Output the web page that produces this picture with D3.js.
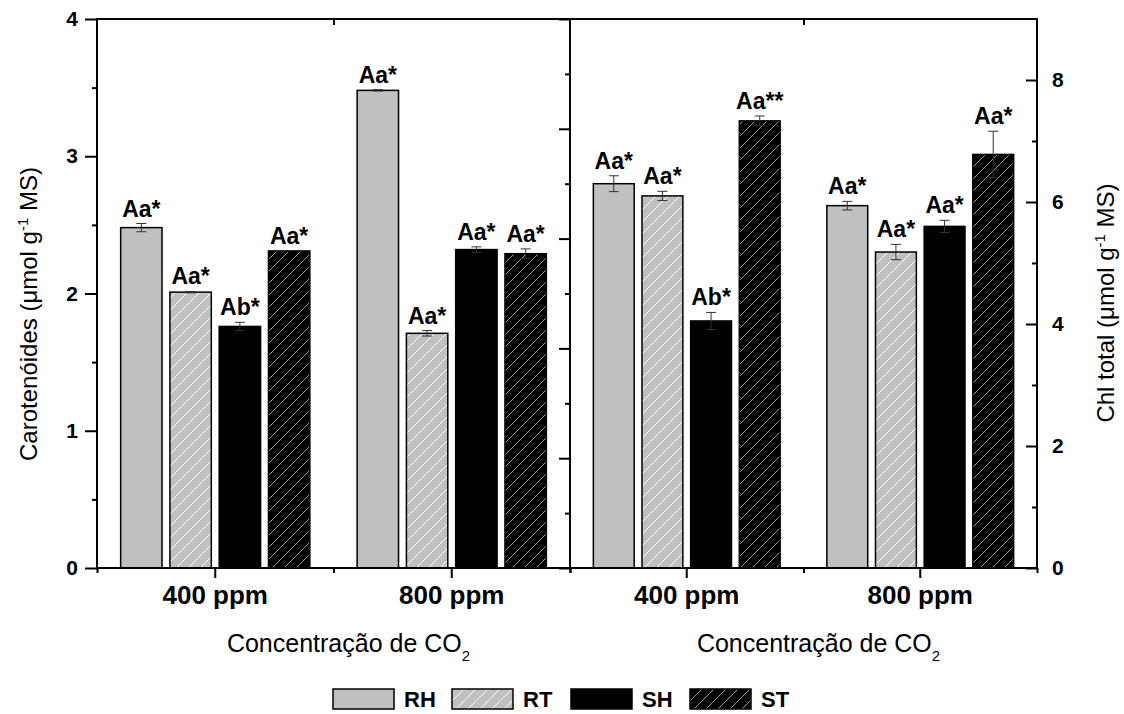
<!DOCTYPE html>
<html>
<head>
<meta charset="utf-8">
<script src="https://cdn.jsdelivr.net/npm/d3@7"></script>
<style>
    body { margin: 0; background: #ffffff; }
    text { font-family: "Liberation Sans", Arial, sans-serif; fill: #000000; }
</style>
</head>
<body>
<svg id="SVGbarChart" width="1124" height="714"></svg>
<script>
/** CO2 concentrations (x categories, shared by both panels) */
const concentrations = ["400 ppm", "800 ppm"];
/** treatments (bar series) */
const treatments = ["RH", "RT", "SH", "ST"];

/** carotenoids, mean per [concentration][treatment] */
const carotMeans = [[2.48, 2.01, 1.76, 2.31], [3.48, 1.71, 2.32, 2.29]];
/** carotenoids, error per [concentration][treatment] */
const carotErrors = [[0.03, 0.005, 0.03, 0], [0.005, 0.02, 0.02, 0.035]];
/** carotenoids, letters over bars */
const carotLabels = [["Aa*", "Aa*", "Ab*", "Aa*"], ["Aa*", "Aa*", "Aa*", "Aa*"]];

/** total chlorophyll, mean per [concentration][treatment] */
const chlMeans = [[6.30, 6.10, 4.05, 7.33], [5.94, 5.18, 5.60, 6.78]];
/** total chlorophyll, error per [concentration][treatment] */
const chlErrors = [[0.13, 0.075, 0.14, 0.08], [0.07, 0.125, 0.1, 0.38]];
/** total chlorophyll, letters over bars */
const chlLabels = [["Aa*", "Aa*", "Ab*", "Aa**"], ["Aa*", "Aa*", "Aa*", "Aa*"]];

/** y ticks */
const carotTicks = [0, 1, 2, 3, 4];
const chlTicks = [0, 2, 4, 6, 8];

const barChart = {
    SVG: d3.select("#SVGbarChart"),
    /** plot area edges */
    top: 19,
    bottom: 568,
    left: 97,
    middle: 570,
    right: 1037,
    fills: {
        RH: "#c0c0c0",
        RT: "url(#hatchRT)",
        SH: "#000000",
        ST: "url(#hatchST)"
    },

    /** diagonal hatch pattern */
    hatch: (id, bg, fg) => {
        const p = barChart.SVG.select("defs").append("pattern")
            .attr("id", id)
            .attr("patternUnits", "userSpaceOnUse")
            .attr("width", 12)
            .attr("height", 12);
        p.append("rect").attr("width", 12).attr("height", 12).attr("fill", bg);
        p.append("path")
            .attr("d", "M-3,3 L3,-3 M0,12 L12,0 M9,15 L15,9")
            .attr("stroke", fg)
            .attr("stroke-width", 1);
    },

    /**
     * draw one panel
     * @param {*} panel panel description
     */
    renderPanel: panel => {
        const G = barChart.SVG.append("g");
        const xOuter = d3.scaleBand()
            .domain(concentrations)
            .range([panel.x0, panel.x1]);
        const bw = xOuter.bandwidth();
        const xInner = d3.scaleBand()
            .domain(treatments)
            .range([bw * 0.1, bw * 0.9])
            .paddingInner(0.16);
        const y = panel.scale;

        const dataList = [];
        concentrations.forEach((c, i) => {
            treatments.forEach((t, j) => {
                dataList.push({
                    conc: c,
                    treat: t,
                    mean: panel.means[i][j],
                    err: panel.errors[i][j],
                    label: panel.labels[i][j]
                });
            });
        });
        const cx = d => xOuter(d.conc) + xInner(d.treat) + xInner.bandwidth() / 2;

        // bars
        G.selectAll("rect.bar").data(dataList).enter()
            .append("rect")
            .attr("class", "bar")
            .attr("x", d => xOuter(d.conc) + xInner(d.treat))
            .attr("y", d => y(d.mean))
            .attr("width", xInner.bandwidth())
            .attr("height", d => barChart.bottom - y(d.mean))
            .style("fill", d => barChart.fills[d.treat])
            .style("stroke", "#000000")
            .style("stroke-width", "1.5px");

        // error bars
        const errs = G.selectAll("g.err").data(dataList.filter(d => d.err > 0)).enter()
            .append("g")
            .attr("class", "err")
            .style("stroke", "#333333")
            .style("stroke-width", "1px");
        errs.append("line")
            .attr("x1", cx).attr("x2", cx)
            .attr("y1", d => y(d.mean + d.err))
            .attr("y2", d => y(d.mean - d.err));
        [1, -1].forEach(s => {
            errs.append("line")
                .attr("x1", d => cx(d) - 5).attr("x2", d => cx(d) + 5)
                .attr("y1", d => y(d.mean + s * d.err))
                .attr("y2", d => y(d.mean + s * d.err));
        });

        // letters
        G.selectAll("text.lbl").data(dataList).enter()
            .append("text")
            .attr("class", "lbl")
            .attr("x", cx)
            .attr("y", d => y(d.mean + d.err) - 7)
            .attr("text-anchor", "middle")
            .style("font-size", "23px")
            .style("font-weight", "bold")
            .text(d => d.label);

        // bottom axis: categories + minor ticks at band edges
        const xAxis = G.append("g")
            .attr("transform", `translate(0,${barChart.bottom})`)
            .call(d3.axisBottom(xOuter).tickSize(10).tickSizeOuter(0).tickPadding(8));
        xAxis.selectAll("text")
            .style("font-size", "26px")
            .style("font-weight", "bold");
        const edge = d3.scaleLinear().domain([0, 2]).range([panel.x0, panel.x1]);
        G.append("g")
            .attr("transform", `translate(0,${barChart.bottom})`)
            .call(d3.axisBottom(edge).tickValues([0, 1, 2]).tickSize(5).tickFormat(""));
        G.append("g")
            .attr("transform", `translate(0,${barChart.top})`)
            .call(d3.axisTop(edge).tickValues([1]).tickSize(-6).tickFormat(""));

        // x title
        const title = G.append("text")
            .attr("x", (panel.x0 + panel.x1) / 2 + 15)
            .attr("y", 652)
            .attr("text-anchor", "middle")
            .style("font-size", "25px");
        title.append("tspan").text("Concentração de CO");
        title.append("tspan").attr("dy", 9).style("font-size", "15px").text("2");

        G.selectAll(".tick line").style("stroke", "#000000").style("stroke-width", "2px");
        G.selectAll(".domain").remove();
    },

    initialize: () => {
        const svg = barChart.SVG;
        svg.append("defs");
        barChart.hatch("hatchRT", "#c0c0c0", "#ffffff");
        barChart.hatch("hatchST", "#000000", "#a0a0a0");

        const yLeft = d3.scaleLinear().domain([0, 4]).range([barChart.bottom, barChart.top]);
        const yRight = d3.scaleLinear().domain([0, 9]).range([barChart.bottom, barChart.top]);
        /** unlabelled scale of the middle frame line */
        const yMid = d3.scaleLinear().domain([0, 10]).range([barChart.bottom, barChart.top]);

        barChart.renderPanel({
            x0: barChart.left, x1: barChart.middle, scale: yLeft,
            means: carotMeans, errors: carotErrors, labels: carotLabels
        });
        barChart.renderPanel({
            x0: barChart.middle, x1: barChart.right, scale: yRight,
            means: chlMeans, errors: chlErrors, labels: chlLabels
        });

        const axes = svg.append("g");
        // left axis
        const la = axes.append("g")
            .attr("transform", `translate(${barChart.left},0)`)
            .call(d3.axisLeft(yLeft).tickValues(carotTicks).tickSize(12).tickPadding(7).tickFormat(d3.format("d")));
        axes.append("g")
            .attr("transform", `translate(${barChart.left},0)`)
            .call(d3.axisLeft(yLeft).tickValues([0.5, 1.5, 2.5, 3.5]).tickSize(5).tickFormat(""));
        // middle line ticks
        axes.append("g")
            .attr("transform", `translate(${barChart.middle},0)`)
            .call(d3.axisLeft(yMid).tickValues([0, 2, 4, 6, 8, 10]).tickSize(11).tickFormat(""));
        axes.append("g")
            .attr("transform", `translate(${barChart.middle},0)`)
            .call(d3.axisLeft(yMid).tickValues([1, 3, 5, 7, 9]).tickSize(5).tickFormat(""));
        // right axis, ticks inward
        const ra = axes.append("g")
            .attr("transform", `translate(${barChart.right},0)`)
            .call(d3.axisRight(yRight).tickValues(chlTicks).tickSizeInner(-11).tickSizeOuter(0).tickPadding(15));
        axes.append("g")
            .attr("transform", `translate(${barChart.right},0)`)
            .call(d3.axisRight(yRight).tickValues([1, 3, 5, 7]).tickSize(-5).tickFormat(""));
        axes.selectAll(".domain").remove();
        axes.selectAll(".tick line").style("stroke", "#000000").style("stroke-width", "2px");
        la.selectAll("text").style("font-size", "21px").style("font-weight", "bold");
        ra.selectAll("text").style("font-size", "21px").style("font-weight", "bold");

        // frame
        const frame = svg.append("g").style("stroke", "#000000").style("stroke-width", "2px");
        frame.append("rect")
            .attr("x", barChart.left).attr("y", barChart.top)
            .attr("width", barChart.right - barChart.left)
            .attr("height", barChart.bottom - barChart.top)
            .style("fill", "none");
        frame.append("line")
            .attr("x1", barChart.middle).attr("x2", barChart.middle)
            .attr("y1", barChart.top).attr("y2", barChart.bottom);

        // y titles
        const lt = svg.append("text")
            .attr("transform", "translate(37,314) rotate(-90)")
            .attr("text-anchor", "middle")
            .style("font-size", "24px");
        lt.append("tspan").text("Carotenóides (μmol g");
        lt.append("tspan").attr("dy", -9).style("font-size", "15px").text("-1");
        lt.append("tspan").attr("dy", 9).text(" MS)");

        const rt = svg.append("text")
            .attr("transform", "translate(1114,303) rotate(-90)")
            .attr("text-anchor", "middle")
            .style("font-size", "24px");
        rt.append("tspan").text("Chl total (μmol g");
        rt.append("tspan").attr("dy", -9).style("font-size", "15px").text("-1");
        rt.append("tspan").attr("dy", 9).text(" MS)");

        // legend
        const legend = svg.append("g").attr("transform", "translate(333,689)");
        const items = legend.selectAll("g").data(treatments).enter()
            .append("g")
            .attr("transform", (d, i) => `translate(${i * 119},0)`);
        items.append("rect")
            .attr("width", 61)
            .attr("height", 20)
            .style("fill", d => barChart.fills[d])
            .style("stroke", "#000000")
            .style("stroke-width", "1.5px");
        items.append("text")
            .attr("x", 71)
            .attr("y", 18)
            .style("font-size", "22px")
            .style("font-weight", "bold")
            .text(d => d);
    }
};

barChart.initialize();
</script>
</body>
</html>
